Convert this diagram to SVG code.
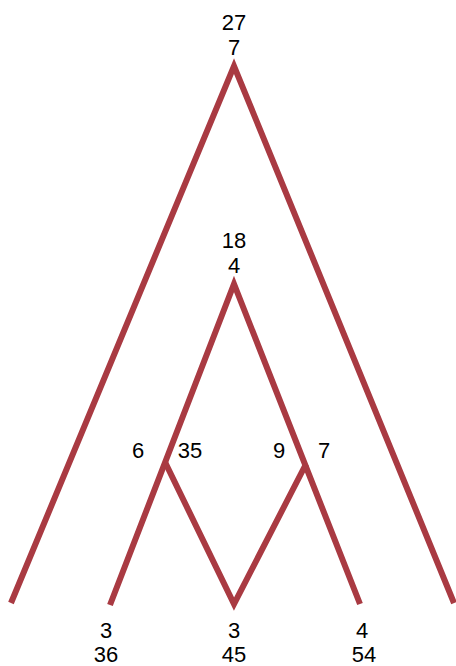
<svg xmlns="http://www.w3.org/2000/svg" width="456" height="666" viewBox="0 0 456 666">
<style>
.e{fill:none;stroke:#a93a42;stroke-width:6;stroke-linejoin:miter;stroke-linecap:butt}
text{font-family:"Liberation Sans",Arial,sans-serif;font-size:22px;fill:#000;text-anchor:middle}
</style>
<rect width="456" height="666" fill="#fff"/>
<g id="connectors">
<polyline class="e" points="11,603 234,66 454,603"/>
<polyline class="e" points="110,605 234,284 360,604"/>
<polyline class="e" points="165,462 234,604 306,464"/>
</g>
<g id="n-root"><text x="234" y="30">27</text><text x="234" y="55">7</text></g>
<g id="n-inner"><text x="234" y="248">18</text><text x="234" y="273">4</text></g>
<g id="n-left"><text x="138" y="458">6</text><text x="190" y="458">35</text></g>
<g id="n-right"><text x="279" y="458">9</text><text x="324" y="458">7</text></g>
<g id="leaf-a"><text x="106" y="638">3</text><text x="106" y="662">36</text></g>
<g id="leaf-b"><text x="234" y="638">3</text><text x="234" y="662">45</text></g>
<g id="leaf-c"><text x="362" y="638">4</text><text x="364" y="662">54</text></g>
</svg>
